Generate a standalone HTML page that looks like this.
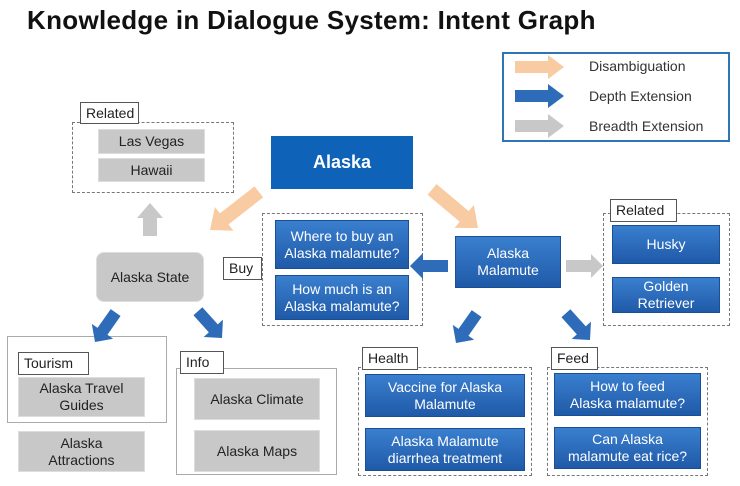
<!DOCTYPE html>
<html><head><meta charset="utf-8"><style>
body{margin:0;width:740px;height:486px;background:#fff;position:relative;overflow:hidden;font-family:"Liberation Sans","DejaVu Sans",sans-serif}
.a{position:absolute;box-sizing:border-box}
.t{position:absolute;left:27px;top:5px;font-size:26px;font-weight:bold;color:#111;letter-spacing:0.3px}
.g{background:#c8c8c8;color:#222;display:flex;align-items:center;justify-content:center;text-align:center;font-size:14px;line-height:17px;border:1px solid #ddd}
.b{background:linear-gradient(#3a7fcf,#1f5aa8);color:#fff;display:flex;align-items:center;justify-content:center;text-align:center;font-size:14px;line-height:17px;border:1px solid #1a4f96}
.d{border:1.5px dashed #777}
.s{border:1.5px solid #aaa}
.l{background:#fff;border:1px solid #555;font-size:14px;color:#222;padding-left:5px;line-height:21px}
.lg{font-size:14px;color:#333}
</style></head><body>
<div class="t">Knowledge in Dialogue System: Intent Graph</div>
<div class="a" style="left:502px;top:52px;width:228px;height:90px;border:2px solid #2e75b6"></div>
<div class="a lg" style="left:589px;top:58px">Disambiguation</div>
<div class="a lg" style="left:589px;top:88px">Depth Extension</div>
<div class="a lg" style="left:589px;top:118px">Breadth Extension</div>

<div class="a d" style="left:72px;top:122px;width:162px;height:71px"></div>
<div class="a l" style="left:80px;top:102px;width:59px;height:22px">Related</div>
<div class="a g" style="left:98px;top:129px;width:107px;height:25px">Las Vegas</div>
<div class="a g" style="left:98px;top:158px;width:107px;height:24px">Hawaii</div>

<div class="a" style="left:271px;top:136px;width:142px;height:53px;background:#0e63b9;color:#fff;font-weight:bold;font-size:18px;display:flex;align-items:center;justify-content:center">Alaska</div>

<div class="a g" style="left:96px;top:252px;width:108px;height:50px;border-radius:8px">Alaska State</div>

<div class="a d" style="left:262px;top:213px;width:161px;height:113px"></div>
<div class="a b" style="left:275px;top:220px;width:134px;height:49px">Where to buy an<br>Alaska malamute?</div>
<div class="a b" style="left:275px;top:275px;width:134px;height:45px">How much is an<br>Alaska malamute?</div>
<div class="a l" style="left:223px;top:257px;width:39px;height:23px">Buy</div>

<div class="a b" style="left:455px;top:236px;width:106px;height:52px">Alaska<br>Malamute</div>

<div class="a d" style="left:603px;top:213px;width:127px;height:113px"></div>
<div class="a l" style="left:610px;top:199px;width:67px;height:23px">Related</div>
<div class="a b" style="left:612px;top:225px;width:108px;height:39px">Husky</div>
<div class="a b" style="left:612px;top:277px;width:108px;height:36px">Golden<br>Retriever</div>

<div class="a d" style="left:358px;top:367px;width:174px;height:109px"></div>
<div class="a b" style="left:365px;top:374px;width:160px;height:43px">Vaccine for Alaska<br>Malamute</div>
<div class="a b" style="left:365px;top:428px;width:160px;height:43px">Alaska Malamute<br>diarrhea treatment</div>
<div class="a l" style="left:362px;top:347px;width:56px;height:23px">Health</div>

<div class="a d" style="left:547px;top:367px;width:161px;height:109px"></div>
<div class="a b" style="left:554px;top:373px;width:147px;height:43px">How to feed<br>Alaska malamute?</div>
<div class="a b" style="left:554px;top:427px;width:147px;height:42px">Can Alaska<br>malamute eat rice?</div>
<div class="a l" style="left:551px;top:347px;width:47px;height:23px">Feed</div>

<div class="a s" style="left:7px;top:336px;width:160px;height:87px"></div>
<div class="a g" style="left:18px;top:377px;width:127px;height:40px">Alaska Travel<br>Guides</div>
<div class="a l" style="left:18px;top:352px;width:71px;height:23px">Tourism</div>
<div class="a g" style="left:18px;top:431px;width:127px;height:41px">Alaska<br>Attractions</div>

<div class="a s" style="left:176px;top:368px;width:161px;height:107px"></div>
<div class="a g" style="left:194px;top:378px;width:126px;height:42px">Alaska Climate</div>
<div class="a g" style="left:194px;top:430px;width:126px;height:42px">Alaska Maps</div>
<div class="a l" style="left:180px;top:351px;width:44px;height:23px">Info</div>

<svg class="a" style="left:0;top:0" width="740" height="486">
<polygon fill="#f8cba3" points="515,61 548,61 548,55 564,67 548,79 548,73 515,73"/>
<polygon fill="#2e6bb8" points="515,90 548,90 548,84 564,96 548,108 548,102 515,102"/>
<polygon fill="#c8c8c8" points="515,120 548,120 548,114 564,126 548,138 548,132 515,132"/>
<g fill="#f8cba3">
<path d="M0,-7 L-18,-7 L-18,-15 L0,0 L-18,15 L-18,7 L-62,7 L-62,-7Z" transform="translate(210,230) rotate(142)" />
<path d="M0,-7 L-18,-7 L-18,-15 L0,0 L-18,15 L-18,7 L-60,7 L-60,-7Z" transform="translate(478,228) rotate(40)" />
</g>
<g fill="#c8c8c8">
<path d="M0,-7 L-15,-7 L-15,-13 L0,0 L-15,13 L-15,7 L-33,7 L-33,-7Z" transform="translate(150,203) rotate(-90)" />
<path d="M0,-6 L-12,-6 L-12,-12 L0,0 L-12,12 L-12,6 L-37,6 L-37,-6Z" transform="translate(603,266)" />
</g>
<g fill="#2e6bb8">
<path d="M0,-6 L-13,-6 L-13,-13 L0,0 L-13,13 L-13,6 L-38,6 L-38,-6Z" transform="translate(410,266) rotate(180)" />
<path d="M0,-6 L-13,-6 L-13,-13 L0,0 L-13,13 L-13,6 L-36,6 L-36,-6Z" transform="translate(95,342) rotate(125)" />
<path d="M0,-6 L-13,-6 L-13,-13 L0,0 L-13,13 L-13,6 L-36,6 L-36,-6Z" transform="translate(222,338) rotate(48)" />
<path d="M0,-6 L-13,-6 L-13,-13 L0,0 L-13,13 L-13,6 L-36,6 L-36,-6Z" transform="translate(456,343) rotate(125)" />
<path d="M0,-6 L-13,-6 L-13,-13 L0,0 L-13,13 L-13,6 L-36,6 L-36,-6Z" transform="translate(590,340) rotate(48)" />
</g>
</svg>
</body></html>
